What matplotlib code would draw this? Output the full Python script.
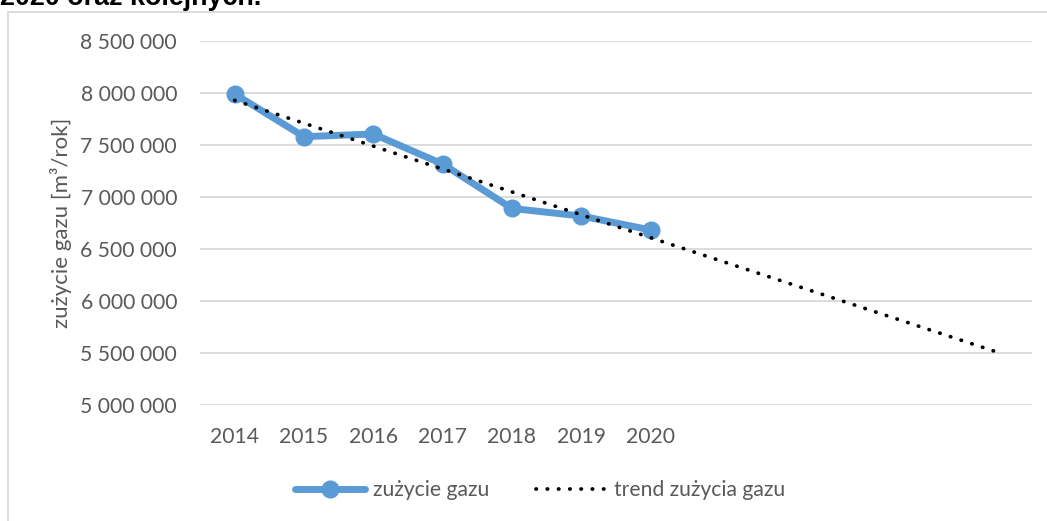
import numpy as np
import matplotlib
matplotlib.use("Agg")
import matplotlib.pyplot as plt
from matplotlib.patches import Rectangle
from matplotlib.ticker import FuncFormatter

years = [2014, 2015, 2016, 2017, 2018, 2019, 2020]
forecast_years = [2021, 2022, 2023, 2024, 2025]
usage = [7990000, 7580000, 7606000, 7317000, 6890000, 6817000, 6683000]
y_ticks = [5000000, 5500000, 6000000, 6500000, 7000000, 7500000, 8000000, 8500000]
title_text = "2020 oraz kolejnych."
series_label = "zużycie gazu"
trend_label = "trend zużycia gazu"
y_label = "zużycie gazu [m³/rok]"

plt.rcParams['font.family'] = ['Lato', 'DejaVu Sans']
W, H = 1047, 521
fig = plt.figure(figsize=(W / 100, H / 100), dpi=100)

# chart border
fig.patches.append(Rectangle((8 / W, -0.1), 1.2, (H - 12) / H + 0.1, transform=fig.transFigure,
                             fill=False, edgecolor='#d9d9d9', linewidth=1.3))
# clipped title from document
fig.text(0 / W, 1 - 5 / H, title_text, fontsize=19.4, fontweight='bold', color='black',
         family=['Liberation Sans', 'DejaVu Sans'], ha='left', va='baseline')

ax = fig.add_axes([200 / W, 1 - 405 / H, 832 / W, (405 - 41) / H])
all_years = years + forecast_years
n = len(all_years)
xi = np.arange(len(years))
xall = np.arange(n)

coef = np.polyfit(xi, np.array(usage, dtype=float), 1)
trend = np.polyval(coef, xall)

ax.plot(xall, trend, color='black', linestyle=(0, (0.1, 2.9)), linewidth=2.7,
        dash_capstyle='round', label=trend_label, zorder=3)
ax.plot(xi, usage, color='#5b9bd5', linewidth=5, marker='o', markersize=12,
        label=series_label, zorder=2, solid_capstyle='round')

ax.set_xlim(-0.5, n - 0.5)
ax.set_ylim(5000000, 8500000)
ax.set_yticks(y_ticks)
ax.yaxis.set_major_formatter(FuncFormatter(lambda v, p: f"{int(v):,}".replace(",", " ")))
ax.set_xticks(xall)
ax.set_xticklabels([str(y) for y in years] + [""] * len(forecast_years))
ax.grid(axis='y', color='#d9d9d9', linewidth=1.3)
ax.set_axisbelow(True)
for s in ax.spines.values():
    s.set_visible(False)
ax.tick_params(axis='both', length=0, labelsize=15.2, labelcolor='#595959')
ax.tick_params(axis='y', pad=16.5)
ax.tick_params(axis='x', pad=16)
ax.set_ylabel(y_label, fontsize=16, color='#595959', labelpad=6)

h, l = ax.get_legend_handles_labels()
leg = fig.legend(h[::-1], l[::-1], loc='center', bbox_to_anchor=(540 / W, 1 - 490 / H),
                 ncol=2, frameon=False, fontsize=15.2, labelcolor='#595959',
                 handlelength=3.3, columnspacing=2.2, handletextpad=0.4)

fig.savefig("out.png", dpi=100)
